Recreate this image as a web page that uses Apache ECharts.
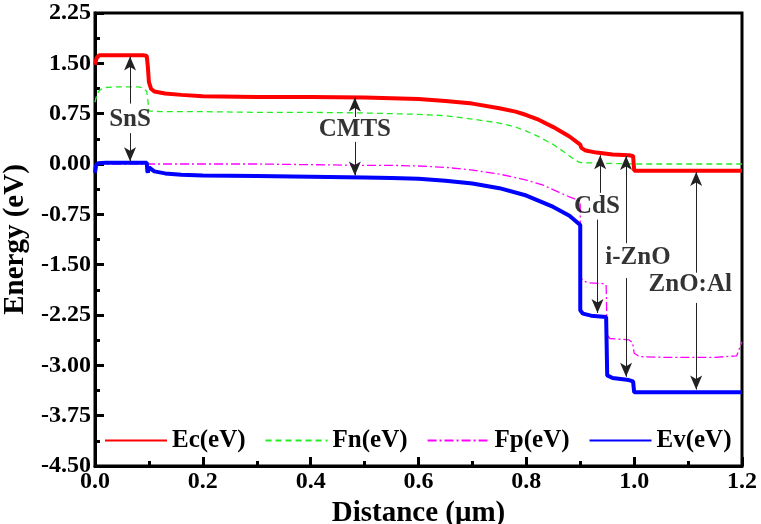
<!DOCTYPE html>
<html>
<head>
<meta charset="utf-8">
<script src="https://cdn.jsdelivr.net/npm/echarts@6/dist/echarts.min.js"></script>
<style>html,body{margin:0;padding:0;background:#fff}#c{width:761px;height:524px}</style>
</head>
<body>
<div id="c"></div>
<script>
// ---- data (x in µm, energy in eV) ----
var Ec = [[0,1.48],[0.003,1.58],[0.008,1.62],[0.05,1.62],[0.09,1.62],[0.096,1.61],[0.098,1.45],[0.1,1.22],[0.104,1.12],[0.11,1.08],[0.13,1.05],[0.16,1.03],[0.2,1.01],[0.3,1.0],[0.4,1.0],[0.5,0.99],[0.55,0.98],[0.6,0.97],[0.65,0.94],[0.7,0.9],[0.75,0.83],[0.78,0.78],[0.8,0.73],[0.82,0.67],[0.85,0.55],[0.88,0.41],[0.9,0.29],[0.902,0.24],[0.91,0.2],[0.93,0.17],[0.96,0.14],[0.99,0.13],[0.998,0.12],[1.0,-0.1],[1.2,-0.1]];
var Fn = [[0,0.92],[0.004,1.05],[0.01,1.11],[0.02,1.14],[0.04,1.15],[0.08,1.15],[0.09,1.13],[0.096,1.08],[0.098,0.95],[0.1,0.79],[0.12,0.78],[0.2,0.78],[0.3,0.77],[0.4,0.77],[0.5,0.76],[0.55,0.75],[0.6,0.74],[0.65,0.72],[0.7,0.67],[0.75,0.61],[0.78,0.55],[0.8,0.49],[0.82,0.42],[0.85,0.29],[0.87,0.18],[0.89,0.06],[0.9,0.02],[0.95,0.01],[1.0,0.0],[1.2,0.0]];
var Fp = [[0,0.0],[0.1,0.0],[0.2,0.0],[0.3,0.0],[0.4,-0.01],[0.5,-0.02],[0.55,-0.02],[0.6,-0.03],[0.65,-0.05],[0.7,-0.09],[0.75,-0.15],[0.8,-0.24],[0.83,-0.31],[0.86,-0.42],[0.88,-0.49],[0.9,-0.55],[0.9,-1.68],[0.905,-1.74],[0.915,-1.77],[0.94,-1.78],[0.948,-1.8],[0.95,-2.55],[0.955,-2.6],[0.99,-2.62],[0.997,-2.66],[1.0,-2.82],[1.01,-2.87],[1.05,-2.88],[1.15,-2.88],[1.19,-2.86],[1.2,-2.65]];
var Ev = [[0,-0.13],[0.002,-0.02],[0.006,0.01],[0.02,0.02],[0.09,0.02],[0.096,0.02],[0.097,-0.1],[0.098,-0.13],[0.1,-0.05],[0.102,-0.07],[0.11,-0.11],[0.13,-0.14],[0.16,-0.16],[0.2,-0.17],[0.3,-0.18],[0.4,-0.19],[0.5,-0.2],[0.55,-0.21],[0.6,-0.22],[0.65,-0.25],[0.7,-0.29],[0.75,-0.36],[0.8,-0.47],[0.85,-0.64],[0.88,-0.77],[0.9,-0.91],[0.9,-2.18],[0.905,-2.23],[0.92,-2.26],[0.948,-2.28],[0.95,-3.15],[0.96,-3.19],[0.99,-3.22],[0.998,-3.24],[1.0,-3.4],[1.2,-3.4]];
var seriesNames = ['Ec(eV)','Fn(eV)','Fp(eV)','Ev(eV)'];
// layer labels: [x, energy, text]
var layerLabels = [[0.065,0.66,'SnS'],[0.482,0.51,'CMTS'],[0.931,-0.63,'CdS'],[1.007,-1.40,'i-ZnO'],[1.104,-1.79,'ZnO:Al']];
// arrows: [x, from energy, to energy (arrow head)]
var arrows = [[0.065,0.9,1.6],[0.065,0.46,0.04],[0.482,0.7,0.99],[0.482,0.33,-0.17],[0.937,-0.43,0.13],[0.932,-0.83,-2.22],[0.985,-1.18,0.12],[0.985,-1.7,-3.17],[1.115,-1.62,-0.12],[1.115,-2.07,-3.36]];
var xTicks = {min:0, max:1.2, step:0.2};
var yTicks = {min:-4.5, max:2.25, step:0.75};

var FONT = "'Liberation Serif','Times New Roman',serif";
var chart = echarts.init(document.getElementById('c'), null, {renderer:'canvas'});
function lineSeries(name, data, color, width, type){
  return {name:name, type:'line', data:data, showSymbol:false, symbol:'none', animation:false,
    lineStyle:{color:color, width:width, type:type}, itemStyle:{color:color}, z:3, silent:true};
}
var markData = arrows.map(function(a){ return [{coord:[a[0],a[1]]},{coord:[a[0],a[2]]}]; });
var option = {
  animation:false,
  backgroundColor:'#fff',
  grid:{left:95, right:19, top:13, bottom:58, containLabel:false, outerBoundsMode:'none',
    show:true, borderColor:'#000', borderWidth:3, backgroundColor:'transparent'},
  legend:{data:seriesNames, left:99, top:423, itemWidth:62, itemHeight:14, itemGap:19,
    itemStyle:{opacity:0},
    textStyle:{fontFamily:FONT, fontWeight:'bold', fontSize:25, color:'#000'}, selectedMode:false},
  xAxis:{type:'value', min:xTicks.min, max:xTicks.max, interval:xTicks.step,
    name:'Distance (\u03bcm)', nameLocation:'middle', nameGap:23,
    nameTextStyle:{fontFamily:FONT, fontWeight:'bold', fontSize:29, color:'#000'},
    axisLine:{show:true, onZero:false, lineStyle:{color:'#000', width:3}},
    axisTick:{show:true, inside:true, length:9, lineStyle:{color:'#000', width:3}},
    minorTick:{show:true, splitNumber:2, length:5, lineStyle:{color:'#000', width:3}},
    splitLine:{show:false},
    axisLabel:{margin:4, fontFamily:FONT, fontWeight:'bold', fontSize:24, color:'#000',
      formatter:function(v){return v.toFixed(1);}}},
  yAxis:{type:'value', min:yTicks.min, max:yTicks.max, interval:yTicks.step,
    name:'Energy (eV)', nameLocation:'middle', nameGap:64,
    nameTextStyle:{fontFamily:FONT, fontWeight:'bold', fontSize:29, color:'#000'},
    axisLine:{show:true, onZero:false, lineStyle:{color:'#000', width:3}},
    axisTick:{show:true, inside:true, length:9, lineStyle:{color:'#000', width:3}},
    minorTick:{show:true, splitNumber:2, length:5, lineStyle:{color:'#000', width:3}},
    splitLine:{show:false},
    axisLabel:{margin:4, fontFamily:FONT, fontWeight:'bold', fontSize:24, color:'#000',
      formatter:function(v){return v.toFixed(2);}}},
  series:[
    lineSeries(seriesNames[1], Fn, '#22ee22', 1.3, [6,4]),
    lineSeries(seriesNames[2], Fp, '#ff00ff', 1.3, [9,3,2,3]),
    lineSeries(seriesNames[0], Ec, '#ff0000', 4, 'solid'),
    lineSeries(seriesNames[3], Ev, '#0000ff', 4, 'solid'),
    {name:'labels', type:'scatter', data:layerLabels, symbol:'circle', symbolSize:1, silent:true,
      itemStyle:{color:'rgba(0,0,0,0)'}, z:5,
      label:{show:true, position:'inside', formatter:function(p){return p.data[2];},
        fontFamily:FONT, fontWeight:'bold', fontSize:25, color:'#000'},
      markLine:{silent:true, symbol:['none','arrow'], symbolSize:[9,14], animation:false,
        lineStyle:{color:'#222', width:1, type:'solid'}, label:{show:false},
        emphasis:{disabled:true}, data:markData}}
  ]
};
chart.setOption(option);
</script>
</body>
</html>
